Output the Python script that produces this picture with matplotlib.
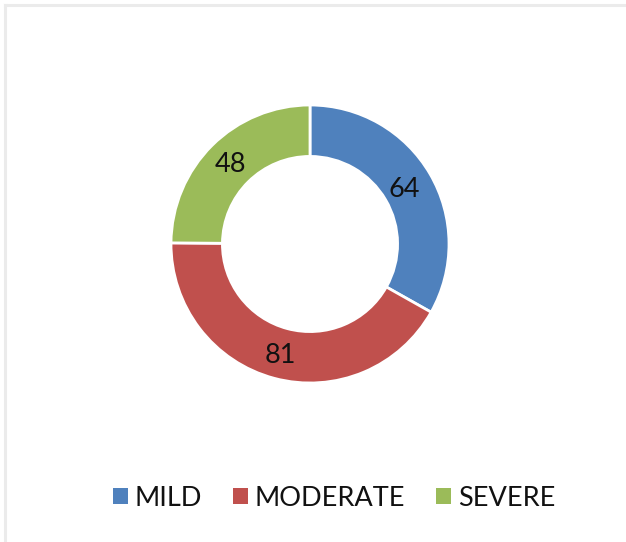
import matplotlib
matplotlib.use("Agg")
import matplotlib.pyplot as plt
from matplotlib.lines import Line2D
from matplotlib.patches import Patch

categories = ["MILD", "MODERATE", "SEVERE"]
counts = [64, 81, 48]
colors = ["#4F81BD", "#C0504D", "#9BBB59"]

plt.rcParams["font.family"] = ["Lato", "DejaVu Sans"]

W, H = 626, 542
fig = plt.figure(figsize=(W / 100, H / 100), dpi=100)
fig.patch.set_facecolor("white")

# thin grey frame along the top and left edges
fig.add_artist(Line2D([5 / W, 1], [1 - 5 / H, 1 - 5 / H], color="#ebebeb", lw=2.2))
fig.add_artist(Line2D([5 / W, 5 / W], [0, 1 - 5 / H], color="#ebebeb", lw=2.2))

# donut centred at (310, 244) px, outer radius ~139 px
cx, cy, r = 310, 244, 139
ax = fig.add_axes([(cx - r) / W, 1 - (cy + r) / H, 2 * r / W, 2 * r / H])
wedges, _ = ax.pie(counts, colors=colors, startangle=90, counterclock=False,
                   radius=1.0, wedgeprops=dict(width=0.37, edgecolor="white", linewidth=2))
ax.set_xlim(-1, 1)
ax.set_ylim(-1, 1)
ax.set_aspect("equal")
ax.axis("off")

# value labels placed along the ring
label_pos = [(0.68, 0.39), (-0.21, -0.80), (-0.57, 0.57)]
for (x, y), v in zip(label_pos, counts):
    ax.text(x, y, str(v), ha="center", va="center", fontsize=19.5, color="#111111")

handles = [Patch(facecolor=c, edgecolor="none") for c in colors]
fig.legend(handles, categories, loc="center", bbox_to_anchor=(334 / W, 1 - 498 / H),
           ncol=3, frameon=False, fontsize=19.5, handlelength=0.55, handleheight=0.55,
           handletextpad=0.25, columnspacing=1.15, labelcolor="#111111")

fig.savefig("out.png", dpi=100, facecolor="white")
